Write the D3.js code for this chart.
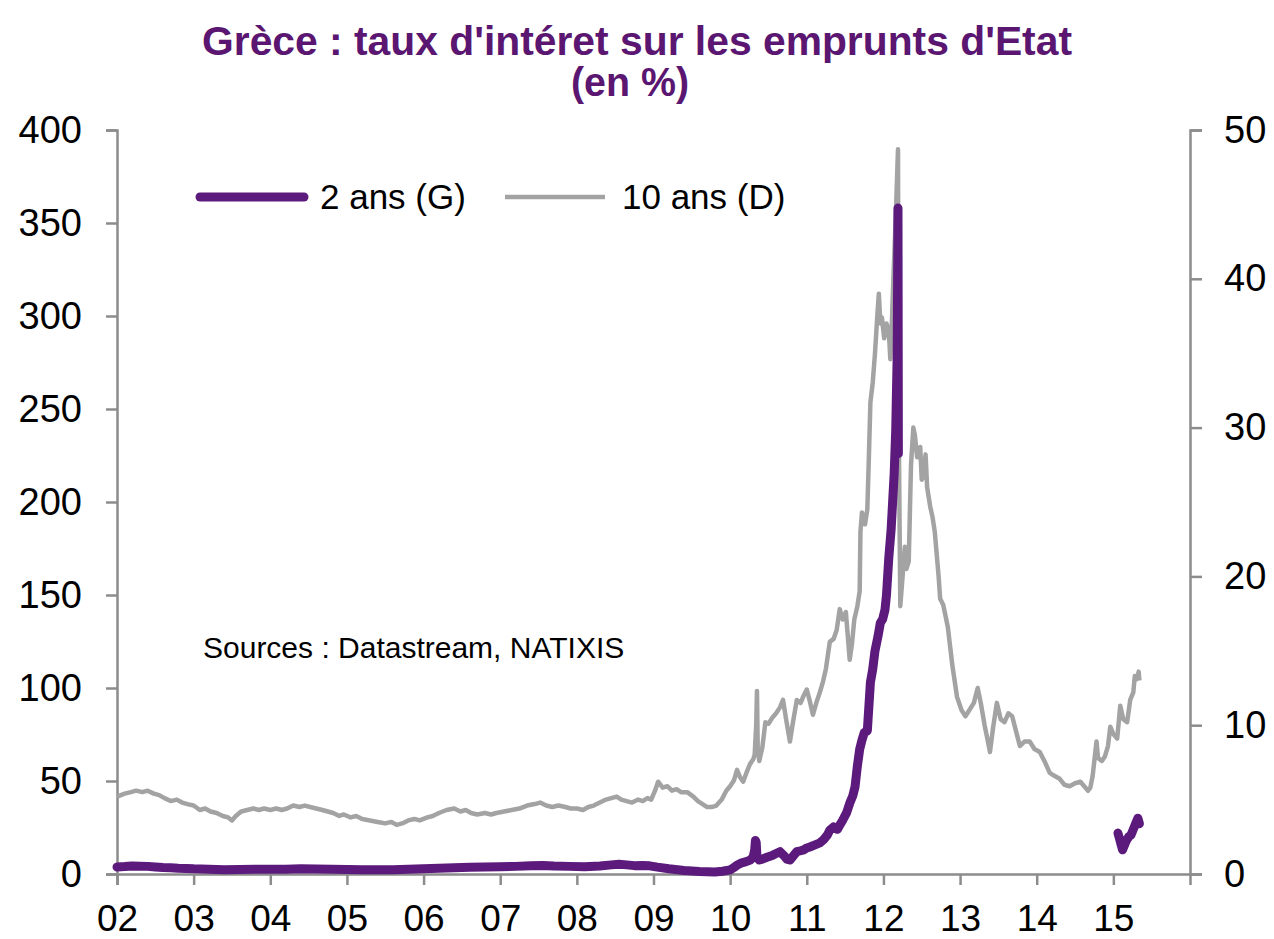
<!DOCTYPE html>
<html><head><meta charset="utf-8">
<script src="https://cdn.jsdelivr.net/npm/d3@7"></script>
<style>
html,body{margin:0;padding:0;background:#fff;}
svg{display:block;font-family:"Liberation Sans",Arial,Helvetica,sans-serif;}
</style></head>
<body>
<svg id="chart" width="1274" height="939"></svg>
<script>
// ---- DATA ----
const titleLines = ["Grèce : taux d'intéret sur les emprunts d'Etat", "(en %)"];
const yearTicks = [2002,2003,2004,2005,2006,2007,2008,2009,2010,2011,2012,2013,2014,2015];
const leftTicks = [0,50,100,150,200,250,300,350,400];
const rightTicks = [0,10,20,30,40,50];
const legendLabels = ["2 ans (G)", "10 ans (D)"];
const sourceText = "Sources : Datastream, NATIXIS";

// 2-year yield (%), left axis, [decimal year, value]
const twoYear = [
[2002.00,3.8],[2002.10,4.0],[2002.20,4.3],[2002.30,4.2],[2002.40,4.1],[2002.50,3.8],[2002.60,3.5],
[2002.70,3.3],[2002.80,3.1],[2002.90,3.0],[2003.00,2.8],[2003.20,2.6],[2003.40,2.3],[2003.60,2.4],
[2003.80,2.6],[2004.00,2.5],[2004.20,2.6],[2004.40,2.8],[2004.60,2.7],[2004.80,2.5],[2005.00,2.4],
[2005.20,2.3],[2005.40,2.3],[2005.60,2.3],[2005.80,2.5],[2006.00,2.8],[2006.20,3.1],[2006.40,3.4],
[2006.60,3.6],[2006.80,3.7],[2007.00,3.9],[2007.20,4.1],[2007.40,4.4],[2007.55,4.6],[2007.70,4.3],
[2007.90,4.1],[2008.10,3.9],[2008.30,4.3],[2008.45,4.9],[2008.55,5.2],[2008.65,4.9],[2008.75,4.5],
[2008.85,4.6],[2008.95,4.4],[2009.05,3.7],[2009.20,2.8],[2009.40,1.9],[2009.60,1.4],[2009.80,1.1],
[2009.90,1.5],[2010.00,2.2],[2010.05,3.5],[2010.10,5.0],[2010.15,6.0],[2010.20,6.5],[2010.26,7.5],
[2010.30,9.0],[2010.32,13.0],[2010.33,18.0],[2010.34,17.0],[2010.35,9.0],[2010.38,7.5],[2010.42,8.0],
[2010.48,9.0],[2010.55,10.0],[2010.60,11.0],[2010.65,12.0],[2010.70,10.0],[2010.74,8.0],[2010.78,7.5],
[2010.83,10.0],[2010.87,12.0],[2010.92,12.5],[2010.96,13.0],[2011.00,14.0],[2011.04,14.5],[2011.10,15.5],
[2011.17,16.7],[2011.22,18.5],[2011.27,21.0],[2011.30,23.6],[2011.35,25.3],[2011.40,24.0],[2011.44,27.0],
[2011.47,29.0],[2011.52,33.0],[2011.56,38.0],[2011.60,42.0],[2011.63,47.0],[2011.66,58.0],[2011.69,67.0],
[2011.72,72.0],[2011.75,76.0],[2011.79,77.0],[2011.81,90.0],[2011.83,103.0],[2011.86,110.0],[2011.89,120.0],
[2011.93,128.0],[2011.96,135.0],[2011.99,137.0],[2012.02,142.0],[2012.04,150.0],[2012.07,170.0],
[2012.10,185.0],[2012.12,200.0],[2012.14,215.0],[2012.16,238.0],[2012.18,280.0],[2012.19,358.0],
[2012.195,226.0]
];
const twoYear2015 = [
[2015.06,22],[2015.08,19],[2015.10,16],[2015.12,13],[2015.14,15],[2015.17,18],[2015.20,20],
[2015.23,21],[2015.26,24],[2015.29,27],[2015.32,30],[2015.34,27]
];

// 10-year yield (%), right axis
const tenYear = [
[2002.00,5.2],[2002.05,5.3],[2002.10,5.4],[2002.18,5.5],[2002.25,5.6],[2002.33,5.5],[2002.40,5.6],
[2002.48,5.4],[2002.55,5.3],[2002.62,5.1],[2002.70,4.9],[2002.78,5.0],[2002.85,4.8],[2002.92,4.7],
[2003.00,4.6],[2003.08,4.3],[2003.15,4.4],[2003.22,4.2],[2003.30,4.1],[2003.38,3.9],[2003.45,3.8],
[2003.50,3.6],[2003.55,3.9],[2003.62,4.2],[2003.70,4.3],[2003.78,4.4],[2003.85,4.3],[2003.92,4.4],
[2004.00,4.3],[2004.08,4.4],[2004.15,4.3],[2004.22,4.4],[2004.30,4.6],[2004.38,4.5],[2004.45,4.6],
[2004.52,4.5],[2004.60,4.4],[2004.68,4.3],[2004.75,4.2],[2004.82,4.1],[2004.90,3.9],[2004.96,4.0],
[2005.05,3.8],[2005.12,3.9],[2005.20,3.7],[2005.30,3.6],[2005.40,3.5],[2005.50,3.4],[2005.58,3.5],
[2005.65,3.3],[2005.72,3.4],[2005.80,3.6],[2005.88,3.7],[2005.95,3.6],[2006.05,3.8],[2006.12,3.9],
[2006.20,4.1],[2006.30,4.3],[2006.40,4.4],[2006.48,4.2],[2006.55,4.3],[2006.62,4.1],[2006.70,4.0],
[2006.80,4.1],[2006.88,4.0],[2006.95,4.1],[2007.05,4.2],[2007.15,4.3],[2007.25,4.4],[2007.35,4.6],
[2007.45,4.7],[2007.52,4.8],[2007.60,4.6],[2007.68,4.5],[2007.76,4.6],[2007.85,4.5],[2007.92,4.4],
[2008.00,4.4],[2008.08,4.3],[2008.15,4.5],[2008.22,4.6],[2008.30,4.8],[2008.38,5.0],[2008.45,5.1],
[2008.52,5.2],[2008.58,5.0],[2008.65,4.9],[2008.72,4.8],[2008.80,5.0],[2008.86,4.9],[2008.92,5.1],
[2008.97,5.0],[2009.02,5.6],[2009.06,6.2],[2009.12,5.8],[2009.18,5.9],[2009.24,5.6],[2009.30,5.7],
[2009.36,5.5],[2009.44,5.5],[2009.52,5.2],[2009.58,4.9],[2009.64,4.7],[2009.70,4.5],[2009.76,4.5],
[2009.82,4.6],[2009.89,5.0],[2009.95,5.6],[2010.00,5.9],[2010.05,6.3],[2010.09,7.0],[2010.13,6.5],
[2010.17,6.2],[2010.22,6.9],[2010.26,7.4],[2010.30,7.7],[2010.32,8.0],[2010.34,10.0],[2010.35,12.3],
[2010.36,8.4],[2010.38,7.6],[2010.42,8.5],[2010.46,10.2],[2010.50,10.1],[2010.55,10.5],[2010.60,10.8],
[2010.65,11.2],[2010.69,11.7],[2010.73,10.4],[2010.78,8.9],[2010.82,10.2],[2010.87,11.7],[2010.92,11.5],
[2010.96,12.0],[2011.00,12.4],[2011.04,11.6],[2011.08,10.7],[2011.13,11.6],[2011.17,12.2],[2011.21,12.9],
[2011.25,13.8],[2011.30,15.6],[2011.35,15.8],[2011.39,16.4],[2011.43,17.8],[2011.47,17.1],[2011.51,17.6],
[2011.56,14.4],[2011.59,15.5],[2011.62,17.1],[2011.66,18.0],[2011.69,19.0],[2011.70,23.0],[2011.72,24.3],
[2011.76,23.5],[2011.79,24.5],[2011.81,28.0],[2011.83,31.7],[2011.86,33.0],[2011.89,35.0],[2011.92,37.5],
[2011.94,39.0],[2011.96,37.0],[2011.98,37.4],[2012.01,36.0],[2012.04,37.0],[2012.07,36.5],[2012.09,34.6],
[2012.11,37.0],[2012.13,40.0],[2012.16,44.0],[2012.19,48.7],[2012.20,30.0],[2012.22,18.0],[2012.25,20.0],
[2012.28,22.0],[2012.30,20.5],[2012.33,21.0],[2012.36,27.5],[2012.39,30.0],[2012.41,29.5],[2012.44,28.0],
[2012.48,28.7],[2012.50,26.5],[2012.52,26.7],[2012.55,28.2],[2012.57,26.0],[2012.61,24.7],[2012.64,24.0],
[2012.67,23.0],[2012.72,20.0],[2012.74,18.5],[2012.78,18.1],[2012.84,16.6],[2012.90,14.0],[2012.96,11.9],
[2013.02,11.0],[2013.07,10.6],[2013.12,11.0],[2013.18,11.5],[2013.23,12.5],[2013.27,11.5],[2013.32,10.0],
[2013.36,9.0],[2013.39,8.2],[2013.43,9.8],[2013.48,11.5],[2013.53,10.4],[2013.58,10.2],[2013.63,10.8],
[2013.68,10.6],[2013.73,9.6],[2013.78,8.6],[2013.84,8.9],[2013.91,8.9],[2013.97,8.4],[2014.04,8.2],
[2014.10,7.6],[2014.17,6.8],[2014.23,6.6],[2014.30,6.4],[2014.36,6.0],[2014.43,5.9],[2014.50,6.1],
[2014.57,6.2],[2014.62,5.9],[2014.67,5.6],[2014.70,5.8],[2014.73,6.6],[2014.78,8.9],[2014.80,7.8],
[2014.85,7.6],[2014.89,7.9],[2014.93,8.6],[2014.96,9.9],[2015.00,9.4],[2015.05,9.1],[2015.09,11.3],
[2015.13,10.4],[2015.18,10.2],[2015.22,11.7],[2015.26,12.2],[2015.28,13.3],[2015.31,13.1],[2015.33,13.6],
[2015.34,13.0]
];

// ---- CHART ----
const svg = d3.select("#chart");
const purple = "#5c1a7c", titleColor = "#5a1670", grayLine = "#a3a3a3", axisColor = "#8c8c8c";
const x = d3.scaleLinear().domain([2002, 2016]).range([117, 1190]);
const yL = d3.scaleLinear().domain([0, 400]).range([874, 130]);
const yR = d3.scaleLinear().domain([0, 50]).range([874, 130]);

// title
svg.append("text").attr("x", 637).attr("y", 55).attr("text-anchor", "middle")
  .attr("font-size", 41).attr("font-weight", "bold").attr("fill", titleColor)
  .attr("textLength", 870).attr("lengthAdjust", "spacingAndGlyphs").text(titleLines[0]);
svg.append("text").attr("x", 630).attr("y", 96).attr("text-anchor", "middle")
  .attr("font-size", 40).attr("font-weight", "bold").attr("fill", titleColor)
  .attr("textLength", 118).attr("lengthAdjust", "spacingAndGlyphs").text(titleLines[1]);

// axes
function styleAxis(g){
  g.select(".domain").attr("stroke", axisColor).attr("stroke-width", 2.5);
  g.selectAll(".tick line").attr("stroke", axisColor).attr("stroke-width", 2.5);
  g.selectAll(".tick text").attr("fill", "#000").attr("font-family", "Liberation Sans, Arial, sans-serif");
}
const gL = svg.append("g").attr("transform", "translate(117,0)")
  .call(d3.axisLeft(yL).tickValues(leftTicks).tickSizeOuter(0).tickSize(11).tickPadding(24));
styleAxis(gL); gL.selectAll(".tick text").attr("font-size", 38);

const gR = svg.append("g").attr("transform", "translate(1190,0)")
  .call(d3.axisRight(yR).tickValues(rightTicks).tickSizeOuter(0).tickSize(12).tickPadding(22));
styleAxis(gR); gR.selectAll(".tick text").attr("font-size", 38);

const gB = svg.append("g").attr("transform", "translate(0,874)")
  .call(d3.axisBottom(x).tickValues(yearTicks).tickSizeOuter(0).tickSize(11).tickPadding(20)
    .tickFormat(d => d3.format("02d")(d % 100)));
styleAxis(gB); gB.selectAll(".tick text").attr("font-size", 37);

// lines
const lineL = d3.line().x(d => x(d[0])).y(d => yL(d[1]));
const lineR = d3.line().x(d => x(d[0])).y(d => yR(d[1]));

svg.append("path").datum(tenYear).attr("d", lineR).attr("fill", "none")
  .attr("stroke", grayLine).attr("stroke-width", 4.5).attr("stroke-linejoin", "round");
[twoYear, twoYear2015].forEach(s => {
  svg.append("path").datum(s).attr("d", lineL).attr("fill", "none")
    .attr("stroke", purple).attr("stroke-width", 9).attr("stroke-linejoin", "round").attr("stroke-linecap", "round");
});

// legend
const lg = svg.append("g");
lg.append("line").attr("x1", 200).attr("x2", 304).attr("y1", 197).attr("y2", 197)
  .attr("stroke", purple).attr("stroke-width", 9).attr("stroke-linecap", "round");
lg.append("text").attr("x", 320).attr("y", 209).attr("font-size", 35).attr("fill", "#000").text(legendLabels[0]);
lg.append("line").attr("x1", 505).attr("x2", 605).attr("y1", 197).attr("y2", 197)
  .attr("stroke", grayLine).attr("stroke-width", 4.5);
lg.append("text").attr("x", 622).attr("y", 209).attr("font-size", 35).attr("fill", "#000").text(legendLabels[1]);

// source
svg.append("text").attr("x", 203).attr("y", 658).attr("font-size", 30).attr("fill", "#000").text(sourceText);
</script>
</body></html>
